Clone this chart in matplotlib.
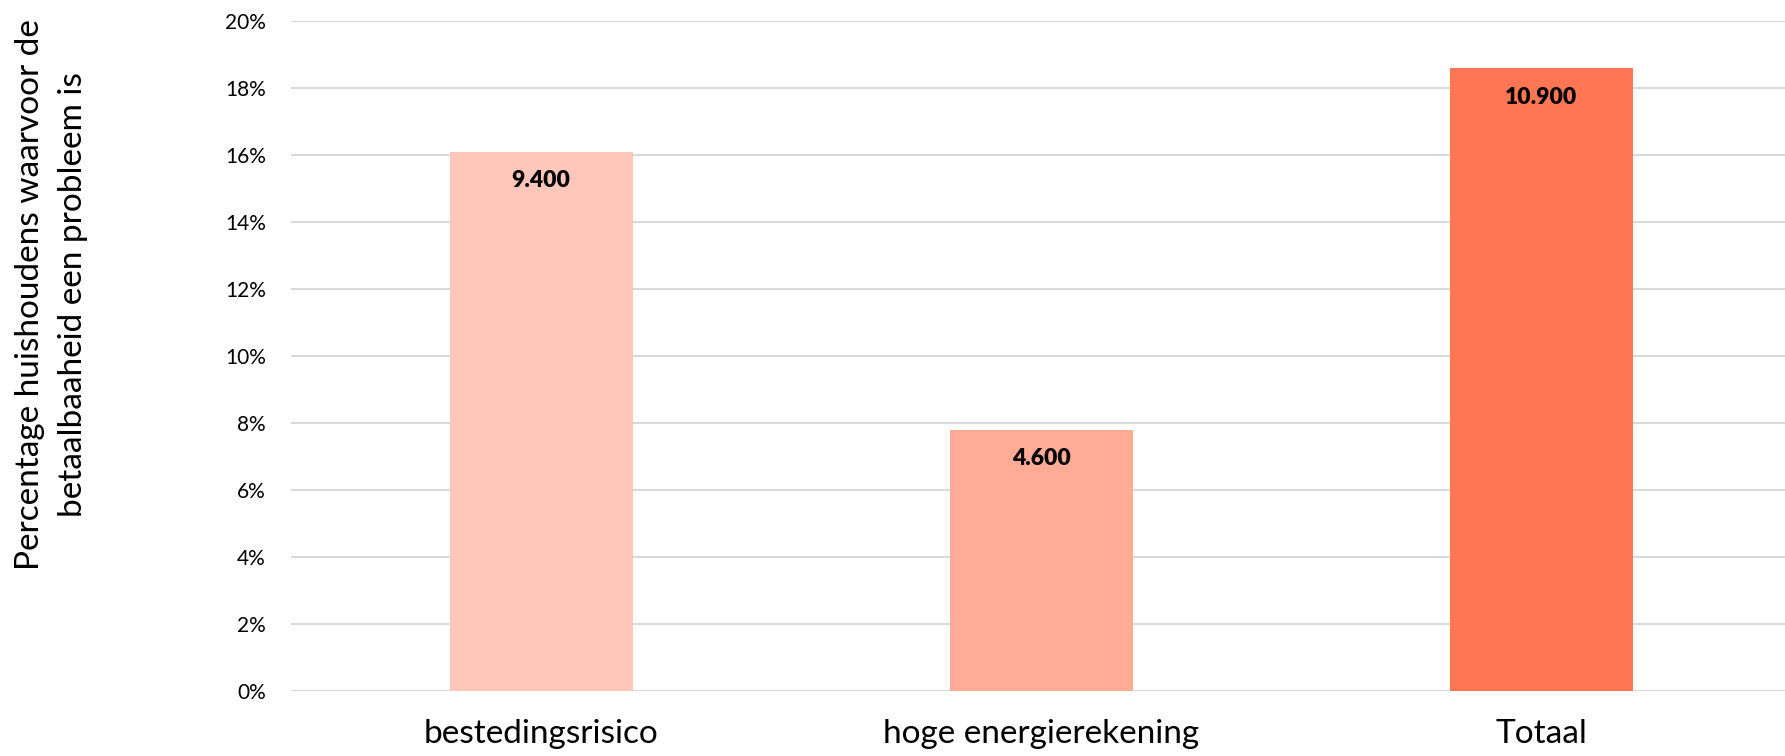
import matplotlib
matplotlib.use('Agg')
import matplotlib.pyplot as plt
from matplotlib.ticker import FuncFormatter

plt.rcParams['font.family'] = ['Lato', 'DejaVu Sans']

# data
categories = ['bestedingsrisico', 'hoge energierekening', 'Totaal']
share = [0.161, 0.078, 0.186]          # percentage of households
households = [9400, 4600, 10900]       # absolute numbers shown in bars
colors = ['#FFC7BA', '#FFAB96', '#FF7654']

fig = plt.figure(figsize=(17.85, 7.56), dpi=100)
ax = fig.add_axes([291 / 1785, 1 - 691 / 756, 1 - 291 / 1785, (691 - 21) / 756])

x = range(len(categories))
bars = ax.bar(x, share, width=0.366, color=colors, zorder=2)

for b, n in zip(bars, households):
    txt = f'{n:,}'.replace(',', '.')
    ax.annotate(txt, (b.get_x() + b.get_width() / 2, b.get_height()),
                xytext=(0, -21), textcoords='offset points',
                ha='center', va='center', fontsize=16.5, fontweight='heavy',
                color='black')

ax.set_ylim(0, 0.20)
ax.set_xlim(-0.5, 2.5 - 6 / 500)
ax.set_yticks([i / 100 for i in range(0, 21, 2)])
ax.yaxis.set_major_formatter(FuncFormatter(lambda v, p: f'{v * 100:.0f}%'))
ax.grid(axis='y', color='#D9D9D9', linewidth=1.5, zorder=0)
ax.set_axisbelow(True)

ax.set_xticks(list(x))
ax.set_xticklabels(categories, fontsize=24)
ax.tick_params(axis='x', length=0, pad=20)
ax.tick_params(axis='y', length=0, labelsize=15, pad=18)

for s in ax.spines.values():
    s.set_visible(False)

fig.text(0.029, 0.61, 'Percentage huishoudens waarvoor de\nbetaalbaaheid een probleem is',
         rotation=90, ha='center', va='center', fontsize=24, linespacing=1.55)

fig.savefig('out.png', dpi=100)
